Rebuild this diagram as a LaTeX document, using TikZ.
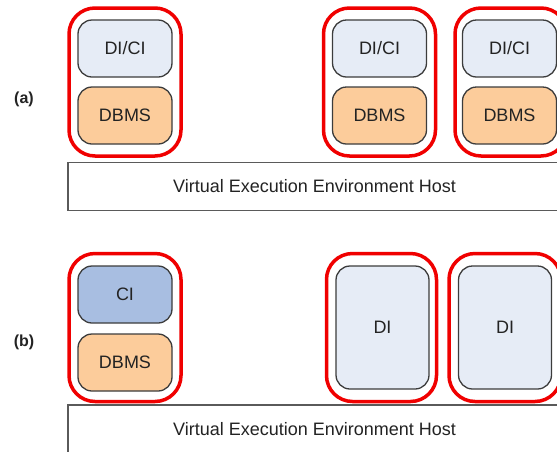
\documentclass[tikz,border=0pt]{standalone}
\usepackage{fontspec}
\setmainfont{Liberation Sans}
\definecolor{redline}{RGB}{240,0,0}
\definecolor{paleblue}{RGB}{230,236,246}
\definecolor{midblue}{RGB}{168,190,225}
\definecolor{peach}{RGB}{252,204,155}
\definecolor{boxedge}{RGB}{60,60,60}
\definecolor{hostedge}{RGB}{90,90,90}
\definecolor{txt}{RGB}{35,35,35}
\tikzset{
  vm/.style={draw=redline, line width=3.5pt, rounded corners=26pt, inner sep=0pt},
  part/.style={draw=boxedge, line width=1.3pt, rounded corners=14pt, inner sep=0pt,
    text=txt, font=\fontsize{18}{21}\selectfont},
  dici/.style={part, fill=paleblue, minimum width=94pt, minimum height=57pt},
  dbms/.style={part, fill=peach, minimum width=94pt, minimum height=57pt},
  ci/.style={part, fill=midblue, minimum width=94pt, minimum height=57pt},
  di/.style={part, fill=paleblue, minimum width=93pt, minimum height=123pt},
  host/.style={draw=hostedge, line width=1.2pt, inner sep=0pt, fill=white,
    text=txt, font=\fontsize{18}{21}\selectfont},
  tag/.style={text=txt, font=\bfseries\fontsize{16}{19}\selectfont}
}
\begin{document}
\begin{tikzpicture}[x=1pt, y=-1pt]
\useasboundingbox (0,0) rectangle (557,451);
\clip (0,0) rectangle (557,451);

% (a) one DI/CI + DBMS pair per virtual machine
\node[tag] (la) at (24,99) {(a)};
\node[host, minimum width=493pt, minimum height=48pt] (hosta) at (314.5,186.5)
  {Virtual Execution Environment Host};

\node[vm, minimum width=112pt, minimum height=148pt] (a1) at (125,82) {};
\node[dici] (a1top) at (125,48.5) {DI/CI};
\node[dbms] (a1bot) at (125,115.5) {DBMS};

\node[vm, minimum width=112pt, minimum height=148pt] (a2) at (379.5,82) {};
\node[dici] (a2top) at (379.5,48.5) {DI/CI};
\node[dbms] (a2bot) at (379.5,115.5) {DBMS};

\node[vm, minimum width=112pt, minimum height=148pt] (a3) at (511,82) {};
\node[dici] (a3top) at (509.5,48.5) {DI/CI};
\node[dbms] (a3bot) at (509.5,115.5) {DBMS};

% (b) a single CI with its DBMS, the DIs on their own machines
\node[tag] (lb) at (24,342) {(b)};
\node[host, minimum width=493pt, minimum height=48pt] (hostb) at (314.5,429)
  {Virtual Execution Environment Host};

\node[vm, minimum width=112pt, minimum height=148pt] (b1) at (125,327.5) {};
\node[ci] (b1top) at (125,294.5) {CI};
\node[dbms] (b1bot) at (125,362.5) {DBMS};

\node[vm, minimum width=110pt, minimum height=148pt] (b2) at (381.5,327.5) {};
\node[di] (b2in) at (382.5,327.5) {DI};

\node[vm, minimum width=112pt, minimum height=148pt] (b3) at (505,327.5) {};
\node[di] (b3in) at (505,327.5) {DI};
\end{tikzpicture}
\end{document}
